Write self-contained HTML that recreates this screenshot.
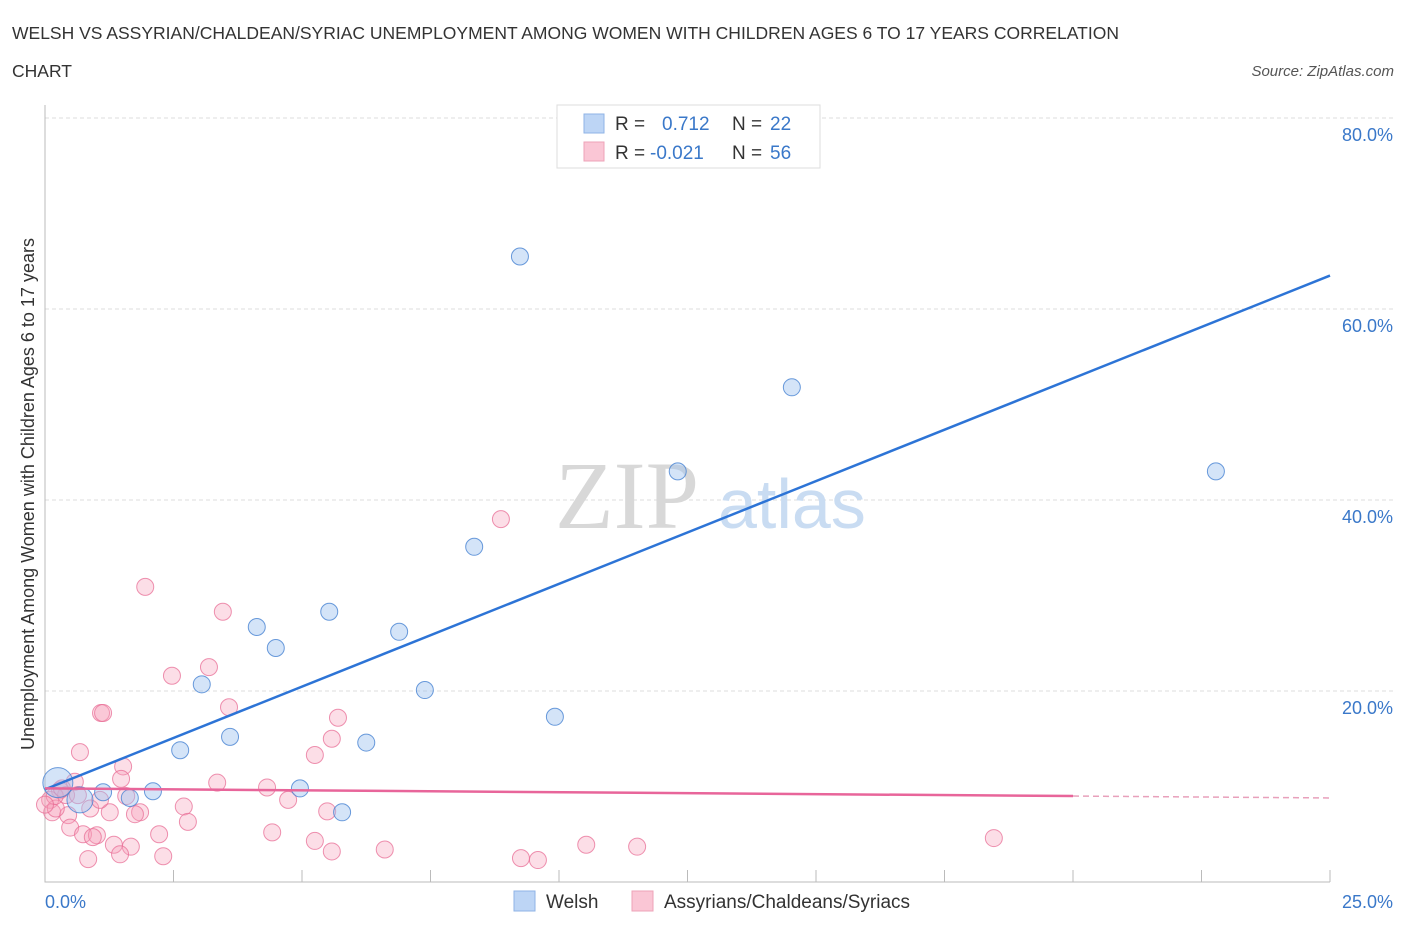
<!DOCTYPE html>
<html><head><meta charset="utf-8"><style>
body{margin:0;background:#fff;font-family:"Liberation Sans",sans-serif;}
svg text{font-family:"Liberation Sans",sans-serif;}
</style></head><body>
<svg width="1406" height="930" xmlns="http://www.w3.org/2000/svg">
<text x="12" y="39" font-size="17.5" fill="#333">WELSH VS ASSYRIAN/CHALDEAN/SYRIAC UNEMPLOYMENT AMONG WOMEN WITH CHILDREN AGES 6 TO 17 YEARS CORRELATION</text>
<text x="12" y="77" font-size="17.5" fill="#333">CHART</text>
<text x="1394" y="76" font-size="15" fill="#555" font-style="italic" text-anchor="end">Source: ZipAtlas.com</text>
<g id="grid"></g>
<text x="555" y="528" font-size="96" fill="#d8d8d8" font-family="Liberation Serif,serif" style="font-family:'Liberation Serif',serif">ZIP</text>
<text x="718" y="528" font-size="70" fill="#c9dcf2">atlas</text>
<g id="marks"></g>
<g>
<rect x="557" y="105" width="263" height="63" fill="#fff" stroke="#ddd"/>
<rect x="584" y="114" width="20" height="19" fill="#bdd5f5" stroke="#8fb3e6"/>
<rect x="584" y="142" width="20" height="19" fill="#fac6d5" stroke="#eea3b8"/>
<text x="615" y="130" font-size="19" fill="#333">R = </text><text x="662" y="130" font-size="19" fill="#3a78c9">0.712</text>
<text x="732" y="130" font-size="19" fill="#333">N = </text><text x="770" y="130" font-size="19" fill="#3a78c9">22</text>
<text x="615" y="159" font-size="19" fill="#333">R = </text><text x="650" y="159" font-size="19" fill="#3a78c9">-0.021</text>
<text x="732" y="159" font-size="19" fill="#333">N = </text><text x="770" y="159" font-size="19" fill="#3a78c9">56</text>
</g>
<g>
<rect x="514" y="891" width="21" height="20" fill="#bdd5f5" stroke="#8fb3e6"/>
<text x="546" y="908" font-size="19" fill="#333">Welsh</text>
<rect x="632" y="891" width="21" height="20" fill="#fac6d5" stroke="#eea3b8"/>
<text x="664" y="908" font-size="19" fill="#333">Assyrians/Chaldeans/Syriacs</text>
</g>
<text transform="translate(34,494) rotate(-90)" font-size="18" fill="#333" text-anchor="middle">Unemployment Among Women with Children Ages 6 to 17 years</text>
</svg>
<script>
const xTicks=[0,2.5,5,7.5,10,12.5,15,17.5,20,22.5,25];
const yTicks=[20,40,60,80];
const yTickLabels=["20.0%","40.0%","60.0%","80.0%"];
const xTickLabels=["0.0%","25.0%"];
const welshX=[9.24,14.53,12.31,22.78,8.35,5.53,4.12,6.89,4.49,3.05,7.39,9.92,2.63,3.60,6.25,2.10,1.65,1.13,4.96,5.78,0.25,0.68];
const welshY=[65.5,51.8,43.0,43.0,35.1,28.3,26.7,26.2,24.5,20.7,20.1,17.3,13.8,15.2,14.6,9.5,8.8,9.4,9.8,7.3,10.4,8.6];
const asyX=[8.87,1.95,3.46,3.19,2.47,1.09,1.13,3.58,5.70,5.58,0.68,5.25,1.52,1.48,3.35,4.32,0.58,4.73,0.29,0.10,0.41,0.88,1.26,1.85,1.75,2.70,0.14,0.45,5.49,2.78,0.49,0.74,1.01,0.93,1.34,1.67,2.22,4.42,5.25,5.58,6.61,10.53,11.52,18.46,1.46,2.30,0.84,9.26,9.59,1.58,0.21,0.19,0.0,0.33,0.64,1.07];
const asyY=[38.0,30.9,28.3,22.5,21.6,17.7,17.7,18.3,17.2,15.0,13.6,13.3,12.1,10.8,10.4,9.9,10.5,8.6,9.6,8.6,9.1,7.7,7.3,7.3,7.1,7.9,7.3,7.0,7.4,6.3,5.7,5.0,4.9,4.7,3.9,3.7,5.0,5.2,4.3,3.2,3.4,3.9,3.7,4.6,2.9,2.7,2.4,2.5,2.3,9.0,7.7,9.0,8.1,9.8,9.1,8.6];
const welshTrend=[9.7,63.5];
const asyTrend=[9.8,8.8];
const NS="http://www.w3.org/2000/svg";
const X=v=>45+v/25*1285, Y=v=>882-v/20*191;
function mk(t,a,p){const e=document.createElementNS(NS,t);for(const k in a)e.setAttribute(k,a[k]);p.appendChild(e);return e;}
const g=document.getElementById('grid'), m=document.getElementById('marks');
yTicks.forEach((t,i)=>{
 const l=mk('line',{x1:45,x2:1395,y1:Y(t),y2:Y(t),stroke:'#ddd','stroke-dasharray':'4,3'},g);
 
 
 const tx=mk('text',{x:1393,y:Y(t)+23,'font-size':18,fill:'#3a78c9','text-anchor':'end'},g);
 tx.textContent=yTickLabels[i];
 
 
});
const ax=mk('path',{d:'M45,105V882H1330',stroke:'#bbb',fill:'none'},g);


xTicks.forEach(t=>{if(t>0){const l=mk('line',{x1:X(t),x2:X(t),y1:870,y2:882,stroke:'#bbb'},g);
 
 }});
[[0,'start',45],[25,'end',1393]].forEach((d,i)=>{const tx=mk('text',{x:d[2],y:908,'font-size':18,fill:'#3a78c9','text-anchor':d[1]},g);tx.textContent=xTickLabels[i];
 
 });
asyX.forEach((v,i)=>{const c=mk('circle',{cx:X(v),cy:Y(asyY[i]),r:8.5,fill:'rgba(246,160,185,0.35)',stroke:'rgba(232,110,150,0.75)','stroke-width':1},m);
 
 });
welshX.forEach((v,i)=>{const r=i==20?15:(i==21?13:8.5);const c=mk('circle',{cx:X(v),cy:Y(welshY[i]),r:r,fill:'rgba(160,195,240,0.45)',stroke:'rgba(70,130,210,0.8)','stroke-width':1},m);
 
 });
const bl=mk('line',{x1:X(0),y1:Y(welshTrend[0]),x2:X(25),y2:Y(welshTrend[1]),stroke:'#2d74d6','stroke-width':2.5},m);


const ya=v=>asyTrend[0]+(asyTrend[1]-asyTrend[0])*v/25;
const pl=mk('line',{x1:X(0),y1:Y(ya(0)),x2:X(20),y2:Y(ya(20)),stroke:'#e8659a','stroke-width':2.5},m);


const pd=mk('line',{x1:X(20),y1:Y(ya(20)),x2:X(25),y2:Y(ya(25)),stroke:'#e8a0bb','stroke-width':1.5,'stroke-dasharray':'6,4'},m);


</script>
</body></html>
